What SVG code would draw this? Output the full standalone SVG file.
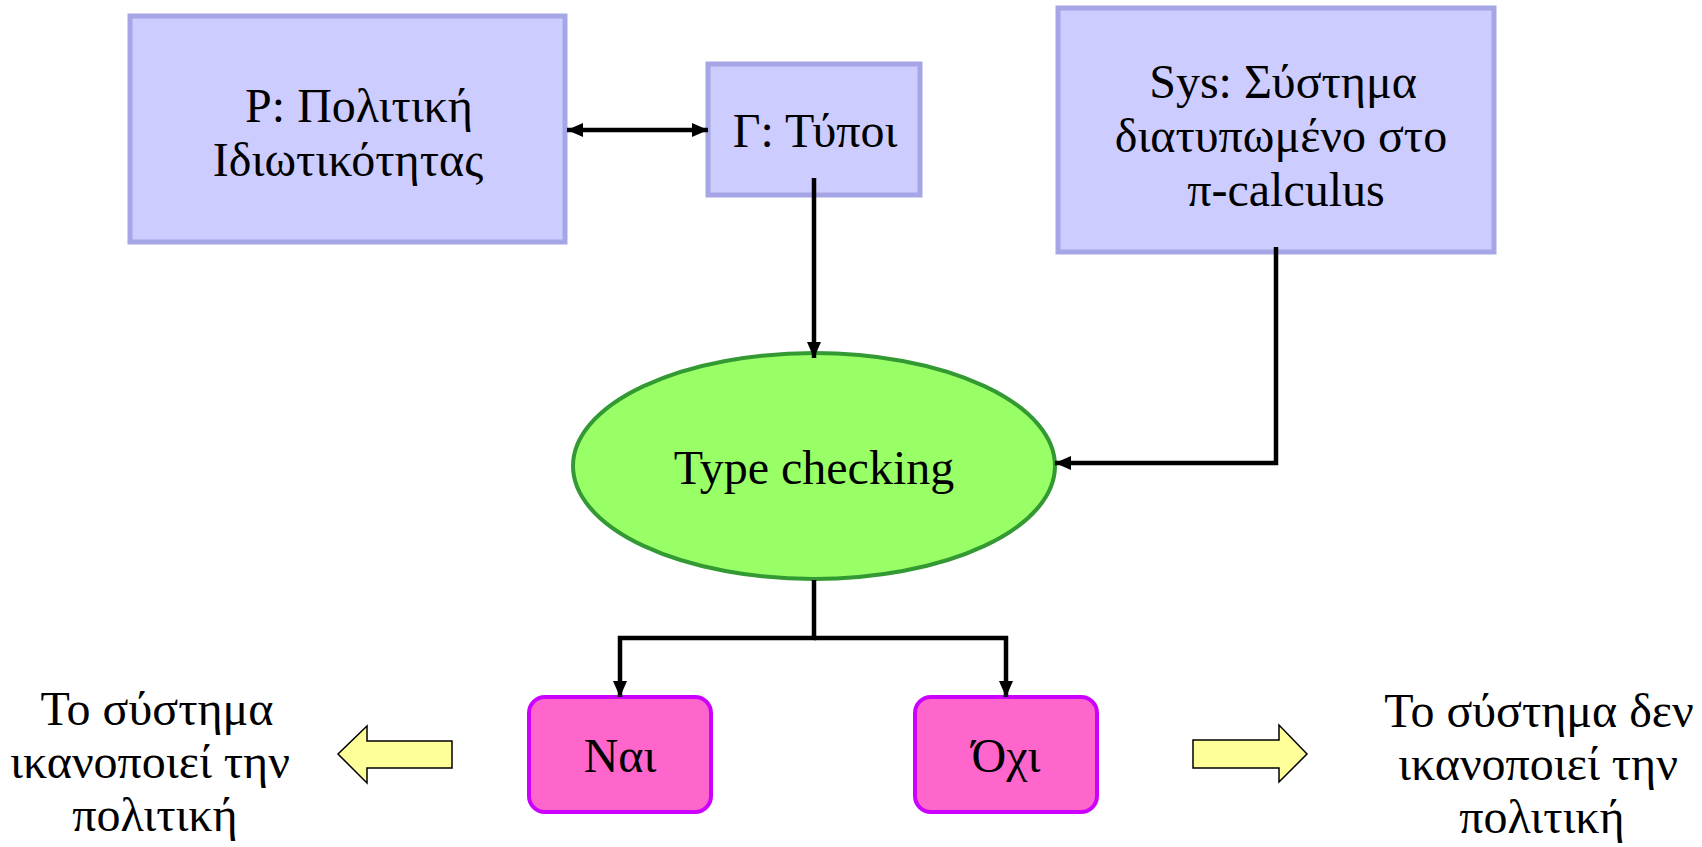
<svg xmlns="http://www.w3.org/2000/svg" width="1702" height="847" viewBox="0 0 1702 847">
  <style>
    .t { font-family: "Liberation Serif", "DejaVu Serif", "Times New Roman", serif; font-size: 48px; fill: #000; text-anchor: middle; }
    .box { fill: #ccccff; stroke: #a6a6e6; stroke-width: 5; }
    .ans { fill: #ff66cc; stroke: #cc00ff; stroke-width: 4; }
    .con { fill: none; stroke: #000; stroke-width: 4.5; }
    .big { fill: #ffff99; stroke: #000; stroke-width: 1.5; stroke-linejoin: miter; }
  </style>
  <defs>
    <marker id="ah" markerUnits="userSpaceOnUse" markerWidth="16" markerHeight="14" refX="16" refY="7" orient="auto-start-reverse" viewBox="0 0 16 14">
      <path d="M0,0 L16,7 L0,14 z" fill="#000"/>
    </marker>
  </defs>

  <g id="node-policy">
    <rect class="box" x="130" y="16" width="435" height="226"/>
    <text class="t" x="359" y="122">P: Πολιτική</text>
    <text class="t" x="348" y="176">Ιδιωτικότητας</text>
  </g>

  <g id="node-types">
    <rect class="box" x="708" y="64" width="212" height="131"/>
    <text class="t" x="815" y="147">Γ: Τύποι</text>
  </g>

  <g id="node-system">
    <rect class="box" x="1058" y="8" width="436" height="244"/>
    <text class="t" x="1283" y="98">Sys: Σύστημα</text>
    <text class="t" x="1281" y="152">διατυπωμένο στο</text>
    <text class="t" x="1286" y="206">π-calculus</text>
  </g>

  <g id="node-typecheck">
    <ellipse cx="814" cy="466" rx="241" ry="113" fill="#99ff66" stroke="#339933" stroke-width="4"/>
    <text class="t" x="814" y="484">Type checking</text>
  </g>

  <g id="node-yes">
    <rect class="ans" x="529" y="697" width="182" height="115" rx="16" ry="16"/>
    <text class="t" x="620" y="772">Ναι</text>
  </g>

  <g id="node-no">
    <rect class="ans" x="915" y="697" width="182" height="115" rx="16" ry="16"/>
    <text class="t" x="1006" y="772">Όχι</text>
  </g>

  <g id="node-yes-result">
    <path class="big" d="M452,741 L367,741 L367,726 L338,754 L367,783 L367,768 L452,768 Z"/>
    <text class="t" x="157" y="725">Το σύστημα</text>
    <text class="t" x="150" y="778">ικανοποιεί την</text>
    <text class="t" x="155" y="831">πολιτική</text>
  </g>

  <g id="node-no-result">
    <path class="big" d="M1193,740 L1279,740 L1279,725 L1307,754 L1279,782 L1279,768 L1193,768 Z"/>
    <text class="t" x="1539" y="727">Το σύστημα δεν</text>
    <text class="t" x="1538" y="780">ικανοποιεί την</text>
    <text class="t" x="1542" y="833">πολιτική</text>
  </g>

  <g id="connectors">
    <line class="con" x1="567" y1="130" x2="708" y2="130" marker-start="url(#ah)" marker-end="url(#ah)"/>
    <line class="con" x1="814" y1="178" x2="814" y2="358" marker-end="url(#ah)"/>
    <polyline class="con" points="1276,247 1276,463 1055,463" marker-end="url(#ah)"/>
    <polyline class="con" points="814,580 814,638 620,638 620,697" marker-end="url(#ah)"/>
    <polyline class="con" points="814,638 1006,638 1006,697" marker-end="url(#ah)"/>
  </g>
</svg>
